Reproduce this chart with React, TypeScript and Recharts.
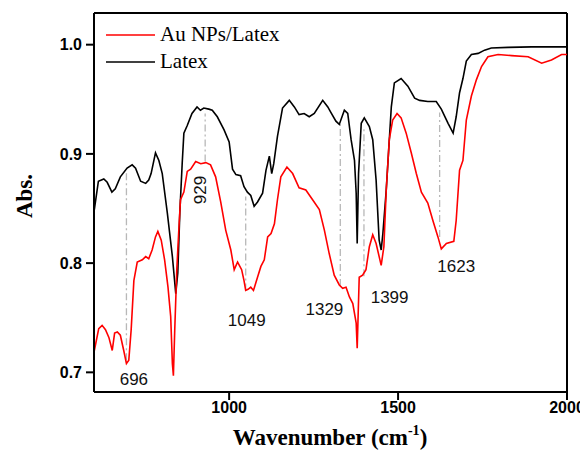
import React from 'react';
import { LineChart, Line, XAxis, YAxis, ReferenceLine, ReferenceDot, Legend, Label } from 'recharts';

// wavenumber (cm-1) and absorbance
const latexWavenumber = [
  601, 613, 629, 639, 653, 663, 678, 698, 713, 723, 738, 753, 762, 769, 782, 792, 802, 817, 832, 842,
  848, 854, 861, 866, 876, 890, 905, 915, 925, 940, 950, 965, 985, 1000, 1010, 1020, 1034, 1044, 1054, 1064,
  1074, 1084, 1099, 1109, 1119, 1126, 1132, 1143, 1158, 1178, 1193, 1207, 1222, 1237, 1252, 1277, 1292, 1301, 1316, 1326,
  1341, 1351, 1361, 1371, 1376, 1379, 1383, 1391, 1400, 1415, 1425, 1435, 1444, 1450, 1455, 1465, 1480, 1489, 1509, 1529,
  1549, 1564, 1588, 1613, 1628, 1648, 1663, 1672, 1682, 1692, 1702, 1717, 1737, 1756, 1776, 1826, 1895, 2000,
];
const latexAbs = [
  0.849, 0.875, 0.877, 0.874, 0.865, 0.868, 0.879, 0.887, 0.890, 0.887, 0.875, 0.873, 0.876, 0.882, 0.901, 0.894, 0.882, 0.846, 0.806, 0.772,
  0.791, 0.846, 0.891, 0.919, 0.926, 0.937, 0.943, 0.940, 0.942, 0.941, 0.940, 0.934, 0.922, 0.911, 0.886, 0.881, 0.880, 0.870, 0.865, 0.862,
  0.852, 0.856, 0.864, 0.885, 0.898, 0.882, 0.891, 0.916, 0.942, 0.949, 0.943, 0.936, 0.937, 0.934, 0.937, 0.949, 0.943, 0.938, 0.930, 0.927,
  0.940, 0.937, 0.913, 0.894, 0.864, 0.818, 0.882, 0.928, 0.933, 0.925, 0.913, 0.876, 0.821, 0.812, 0.827, 0.867, 0.943, 0.965, 0.969, 0.962,
  0.951, 0.949, 0.948, 0.948, 0.941, 0.928, 0.919, 0.934, 0.956, 0.969, 0.985, 0.991, 0.992, 0.995, 0.997, 0.9975, 0.998, 0.998,
];

const auWavenumber = [
  601, 614, 624, 634, 644, 654, 661, 669, 678, 688, 696, 703, 710, 718, 728, 743, 753, 762, 772, 782,
  789, 799, 809, 819, 827, 832, 835, 839, 845, 852, 856, 866, 876, 886, 901, 916, 931, 945, 960, 975,
  990, 1005, 1015, 1025, 1037, 1044, 1049, 1056, 1064, 1072, 1084, 1094, 1104, 1114, 1124, 1134, 1143, 1153, 1171, 1188,
  1207, 1227, 1247, 1267, 1282, 1296, 1311, 1326, 1336, 1346, 1356, 1366, 1376, 1379, 1385, 1395, 1405, 1415, 1425, 1435,
  1444, 1450, 1458, 1465, 1474, 1484, 1497, 1509, 1524, 1539, 1554, 1569, 1588, 1603, 1618, 1628, 1643, 1665, 1672, 1682,
  1692, 1702, 1717, 1732, 1747, 1766, 1796, 1836, 1885, 1925, 1954, 1984, 2000,
];
const auAbs = [
  0.720, 0.740, 0.743, 0.739, 0.732, 0.720, 0.736, 0.737, 0.734, 0.720, 0.708, 0.711, 0.739, 0.784, 0.801, 0.803, 0.806, 0.804, 0.812, 0.824,
  0.829, 0.821, 0.803, 0.778, 0.751, 0.708, 0.697, 0.739, 0.794, 0.836, 0.858, 0.865, 0.884, 0.886, 0.893, 0.891, 0.892, 0.890, 0.879, 0.856,
  0.830, 0.812, 0.794, 0.801, 0.794, 0.784, 0.775, 0.776, 0.778, 0.775, 0.787, 0.797, 0.803, 0.824, 0.827, 0.836, 0.858, 0.879, 0.888, 0.882,
  0.869, 0.867, 0.858, 0.849, 0.830, 0.809, 0.789, 0.780, 0.777, 0.778, 0.769, 0.763, 0.745, 0.722, 0.787, 0.789, 0.794, 0.815, 0.826, 0.818,
  0.806, 0.798, 0.815, 0.867, 0.913, 0.931, 0.937, 0.933, 0.919, 0.901, 0.882, 0.865, 0.855, 0.839, 0.824, 0.813, 0.818, 0.820, 0.839, 0.885,
  0.894, 0.931, 0.953, 0.968, 0.980, 0.989, 0.991, 0.990, 0.989, 0.983, 0.986, 0.991, 0.991,
];

// marked bands: dash-dot guide from bottom to top, label placed at (labelX, labelY)
const peaks = [696, 929, 1049, 1329, 1399, 1623];
const peakLow = [0.711, 0.893, 0.775, 0.779, 0.788, 0.824];
const peakHigh = [0.885, 0.937, 0.861, 0.930, 0.924, 0.938];
const labelX = [718, 913, 1052, 1282, 1475, 1672];
const labelY = [0.6936, 0.867, 0.7477, 0.7583, 0.7693, 0.7977];

const xDomain = [600, 2000];
const yDomain = [0.682, 1.029];
const xTicks = [1000, 1500, 2000];
const yTicks = [0.7, 0.8, 0.9, 1.0];

const latexData = latexWavenumber.map((x, i) => ({ x, y: latexAbs[i] }));
const auData = auWavenumber.map((x, i) => ({ x, y: auAbs[i] }));

const tickFont = { fontFamily: 'Liberation Sans, Arial, sans-serif', fontWeight: 'bold', fontSize: 16, fill: '#000' };
const serif = 'Liberation Serif, Times New Roman, serif';

const legendItems = [
  { name: 'Au NPs/Latex', color: '#ff0000' },
  { name: 'Latex', color: '#000000' },
];

function LegendBox() {
  return (
    <div style={{ fontFamily: serif, fontSize: 21, color: '#000' }}>
      {legendItems.map((it) => (
        <div key={it.name} style={{ display: 'flex', alignItems: 'center', height: 27 }}>
          <svg width={49} height={4} style={{ display: 'block' }}>
            <line x1={0} y1={2} x2={49} y2={2} stroke={it.color} strokeWidth={1.6} />
          </svg>
          <span style={{ marginLeft: 5, lineHeight: '27px' }}>{it.name}</span>
        </div>
      ))}
    </div>
  );
}

export default function App() {
  return (
    <LineChart width={580} height={444} margin={{ top: 5, right: 21, left: 0, bottom: 0 }}>
      <XAxis
        type="number"
        dataKey="x"
        domain={xDomain}
        ticks={xTicks}
        allowDataOverflow
        height={60}
        tickSize={8}
        tickMargin={2}
        tick={tickFont}
        axisLine={{ stroke: '#000', strokeWidth: 2 }}
        tickLine={{ stroke: '#000', strokeWidth: 2 }}
      >
        <Label
          content={() => (
            <text x={322} y={437} textAnchor="middle" fontFamily={serif} fontWeight="bold" fontSize={23} fill="#000">
              Wavenumber (cm
              <tspan fontSize={14} dy={-10}>-1</tspan>
              <tspan dy={10}>)</tspan>
            </text>
          )}
        />
      </XAxis>
      <YAxis
        type="number"
        domain={yDomain}
        ticks={yTicks}
        allowDataOverflow
        width={86}
        tickSize={8}
        tickMargin={4}
        tick={tickFont}
        tickFormatter={(v: number) => v.toFixed(1)}
        axisLine={{ stroke: '#000', strokeWidth: 2 }}
        tickLine={{ stroke: '#000', strokeWidth: 2 }}
      >
        <Label
          content={() => (
            <text
              x={16}
              y={188}
              transform="rotate(-90 16 188)"
              textAnchor="middle"
              dominantBaseline="central"
              fontFamily={serif}
              fontWeight="bold"
              fontSize={23}
              fill="#000"
            >
              Abs.
            </text>
          )}
        />
      </YAxis>

      {/* closing frame: top and right edges */}
      <ReferenceLine y={yDomain[1]} stroke="#000" strokeWidth={2} ifOverflow="visible" />
      <ReferenceLine x={xDomain[1]} stroke="#000" strokeWidth={2} ifOverflow="visible" />

      {peaks.map((p, i) => (
        <ReferenceLine
          key={'g' + p}
          segment={[{ x: p, y: peakLow[i] }, { x: p, y: peakHigh[i] }]}
          stroke="#b8b8b8"
          strokeWidth={1.3}
          strokeDasharray="7 3 2 3"
        />
      ))}

      <Line data={latexData} dataKey="y" name="Latex" stroke="#000" strokeWidth={1.6} dot={false} type="linear" isAnimationActive={false} />
      <Line data={auData} dataKey="y" name="Au NPs/Latex" stroke="#ff0000" strokeWidth={1.6} dot={false} type="linear" isAnimationActive={false} />

      {peaks.map((p, i) => (
        <ReferenceDot
          key={'l' + p}
          x={labelX[i]}
          y={labelY[i]}
          r={0}
          stroke="none"
          fill="none"
          label={{
            value: String(p),
            position: 'center',
            angle: p === 929 ? -90 : 0,
            fill: '#111',
            fontSize: 17,
            fontFamily: 'Liberation Sans, Arial, sans-serif',
          }}
        />
      ))}

      <Legend
        layout="vertical"
        align="center"
        verticalAlign="middle"
        content={() => <LegendBox />}
        wrapperStyle={{ left: 98, top: 13, width: 'auto' }}
      />
    </LineChart>
  );
}
